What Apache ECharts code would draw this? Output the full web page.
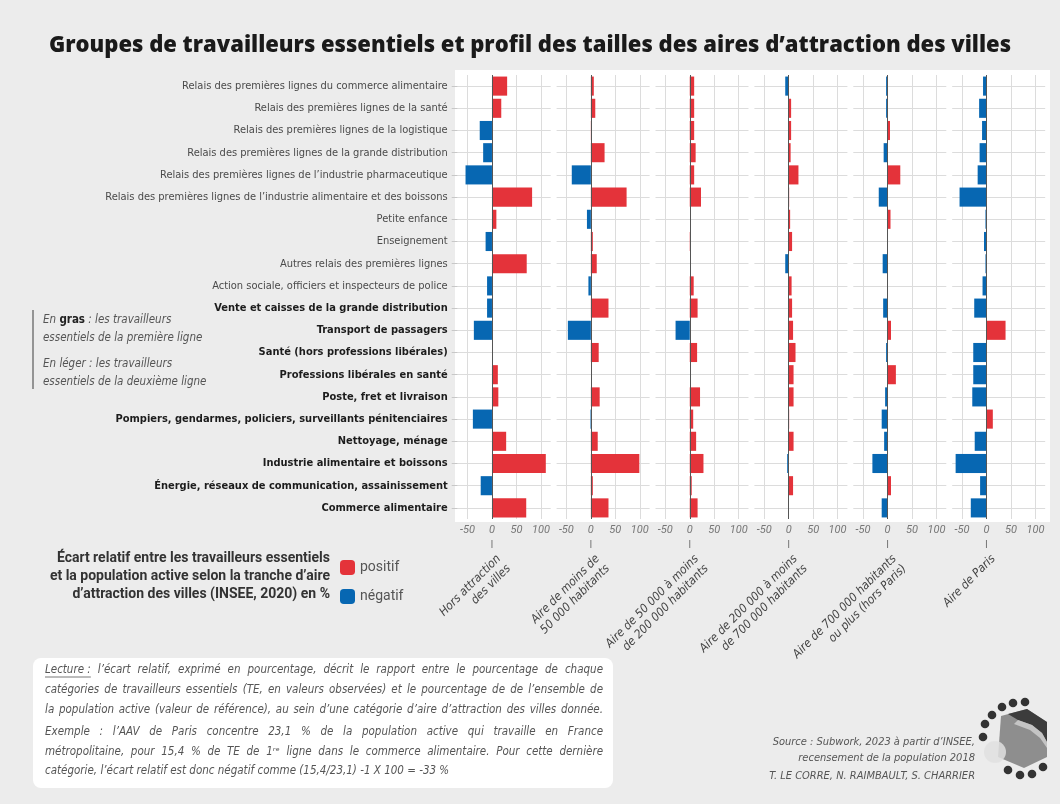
<!DOCTYPE html>
<html>
<head>
<meta charset="utf-8">
<script src="https://cdn.jsdelivr.net/npm/echarts@6/dist/echarts.min.js"></script>
<style>
  html, body { margin: 0; padding: 0; background: #ececec; }
  #chart { width: 1060px; height: 804px; }
</style>
</head>
<body>
<div id="chart"></div>
<script>
var categories = [
    'Relais des premières lignes du commerce alimentaire',
    'Relais des premières lignes de la santé',
    'Relais des premières lignes de la logistique',
    'Relais des premières lignes de la grande distribution',
    'Relais des premières lignes de l’industrie pharmaceutique',
    'Relais des premières lignes de l’industrie alimentaire et des boissons',
    'Petite enfance',
    'Enseignement',
    'Autres relais des premières lignes',
    'Action sociale, officiers et inspecteurs de police',
    'Vente et caisses de la grande distribution',
    'Transport de passagers',
    'Santé (hors professions libérales)',
    'Professions libérales en santé',
    'Poste, fret et livraison',
    'Pompiers, gendarmes, policiers, surveillants pénitenciaires',
    'Nettoyage, ménage',
    'Industrie alimentaire et boissons',
    'Énergie, réseaux de communication, assainissement',
    'Commerce alimentaire'
];
// les 10 dernières catégories sont les travailleurs de première ligne (en gras)
var firstBold = 10;

var zones = [
    'Hors attraction\ndes villes',
    'Aire de moins de\n50 000 habitants',
    'Aire de 50 000 à moins\nde 200 000 habitants',
    'Aire de 200 000 à moins\nde 700 000 habitants',
    'Aire de 700 000 habitants\nou plus (hors Paris)',
    'Aire de Paris'
];

var horsAttraction = [31, 19, -25, -18, -54, 82, 9, -13, 71, -10, -10, -37, 0, 12, 13, -39, 29, 110, -23, 70];
var moins50k = [6, 9, 1, 28, -39, 73, -8, 4, 12, -5, 36, -47, 16, 0, 18, -1, 14, 99, 4, 36];
var de50a200k = [9, 9, 9, 12, 9, 23, 0, 1, 0, 8, 16, -29, 15, 0, 21, 7, 13, 28, 4, 16];
var de200a700k = [-7, 5, 5, 4, 20, 1, 3, 7, -7, 6, 7, 9, 14, 10, 10, 1, 10, -3, 9, 0];
var plus700k = [-3, -3, 5, -8, 26, -18, 6, 0, -10, -1, -9, 7, -3, 17, -5, -12, -7, -31, 7, -12];
var paris = [-7, -15, -9, -14, -18, -55, -2, -5, -2, -8, -25, 39, -27, -27, -29, 13, -24, -63, -13, -32];
var panelValues = [horsAttraction, moins50k, de50a200k, de200a700k, plus700k, paris];

var tickValues = [-50, 0, 50, 100];
var legendNames = ['positif', 'négatif'];

var lectureLines = [
    'Lecture\u00a0: l’écart relatif, exprimé en pourcentage, décrit le rapport entre le pourcentage de chaque',
    'catégories de travailleurs essentiels (TE, en valeurs observées) et le pourcentage de de l’ensemble de',
    'la population active (valeur de référence), au sein d’une catégorie d’aire d’attraction des villes donnée.',
    'Exemple : l’AAV de Paris concentre 23,1 % de la population active qui travaille en France',
    'métropolitaine, pour 15,4 % de TE de 1ʳᵉ ligne dans le commerce alimentaire. Pour cette dernière',
    'catégorie, l’écart relatif est donc négatif comme (15,4/23,1) -1 X 100 = -33 %'
];

var RED = '#e4333a';
var BLUE = '#0767b2';

function hasFont(name) {
    var ctx = document.createElement('canvas').getContext('2d');
    var s = 'abcdefghijklmnopqrstuvwxyz ABCDEFGHIJ 0123456789';
    var diff = false;
    ['monospace', 'serif'].forEach(function (base) {
        ctx.font = '20px ' + base;
        var a = ctx.measureText(s).width;
        ctx.font = '20px "' + name + '", ' + base;
        if (ctx.measureText(s).width !== a) diff = true;
    });
    return diff;
}
var NARROW = ['Liberation Sans Narrow', 'DejaVu Sans Condensed', 'Roboto Condensed'].filter(hasFont)[0] || 'Roboto';
var NARROW_F = '"' + NARROW + '", Roboto, sans-serif';

var myChart = echarts.init(document.getElementById('chart'));

var grids = [], xAxes = [], yAxes = [], series = [];
panelValues.forEach(function (vals, i) {
    grids.push({ left: 457.7 + 98.9 * i, width: 93, top: 75, height: 444 });
    xAxes.push({
        type: 'value', gridIndex: i, min: -70, max: 120,
        axisLine: { show: false },
        axisTick: { show: false, customValues: tickValues },
        axisLabel: {
            customValues: tickValues, margin: 6, fontSize: 11, fontStyle: 'italic',
            color: '#777', fontFamily: 'Roboto'
        },
        splitLine: { show: true, lineStyle: { color: '#dcdcdc', width: 1 } }
    });
    yAxes.push({
        type: 'category', gridIndex: i, data: categories, inverse: true,
        axisLine: { show: false, onZero: false },
        axisTick: { show: i === 0, alignWithLabel: true, interval: 0, length: 6, lineStyle: { color: '#c8c8c8' } },
        axisLabel: {
            show: i === 0, interval: 0, margin: 10,
            formatter: function (v, idx) {
                return (idx >= firstBold ? '{b|' : '{l|') + v + '}';
            },
            rich: {
                l: { fontSize: 11, color: '#4a4a4a', fontFamily: NARROW_F },
                b: { fontSize: 11, color: '#1c1c1c', fontWeight: 'bold', fontFamily: NARROW_F }
            }
        },
        splitLine: { show: true, alignWithLabel: true, interval: 0, lineStyle: { color: '#dcdcdc', width: 1 } }
    });
    series.push({
        name: legendNames[0], type: 'bar', xAxisIndex: i, yAxisIndex: i,
        data: vals.map(function (v) { return v >= 0 ? v : '-'; }),
        itemStyle: { color: RED }, barCategoryGap: '14%', barGap: '-100%',
        markLine: {
            silent: true, symbol: 'none', label: { show: false },
            lineStyle: { color: '#555', type: 'solid', width: 1 },
            data: [{ xAxis: 0 }]
        }
    });
    series.push({
        name: legendNames[1], type: 'bar', xAxisIndex: i, yAxisIndex: i,
        data: vals.map(function (v) { return v < 0 ? v : '-'; }),
        itemStyle: { color: BLUE }, barCategoryGap: '14%', barGap: '-100%'
    });
});

var option = {
    backgroundColor: '#ececec',
    animation: false,
    title: {
        text: 'Groupes de travailleurs essentiels et profil des tailles des aires d’attraction des villes',
        left: 'center', top: 30,
        textStyle: { fontSize: 22, fontWeight: 800, color: '#1a1a1a', fontFamily: '"Open Sans", Inter' }
    },
    legend: {
        data: legendNames, orient: 'vertical', left: 335, top: 555,
        itemWidth: 15, itemHeight: 15, itemGap: 14, icon: 'roundRect',
        textStyle: { fontSize: 14, color: '#555', fontFamily: 'Roboto' }
    },
    grid: grids,
    xAxis: xAxes,
    yAxis: yAxes,
    series: series
};
myChart.setOption(option);

// éléments décoratifs et textes d'annotation
var g = [];
g.push({
    type: 'rect', z: -100, silent: true,
    shape: { x: 455, y: 70, width: 595, height: 452 },
    style: { fill: '#ffffff' }
});

// titres des tranches, ancrés sur le zéro de chaque panneau
zones.forEach(function (name, i) {
    var x0 = myChart.convertToPixel({ xAxisIndex: i }, 0);
    g.push({
        type: 'line', shape: { x1: x0, y1: 540, x2: x0, y2: 548 },
        style: { stroke: '#777', lineWidth: 1 }
    });
    g.push({
        type: 'text', x: x0 + 2, y: 552, rotation: Math.PI / 4,
        style: {
            text: name, align: 'right', verticalAlign: 'top', lineHeight: 14,
            font: 'italic 12px ' + NARROW_F, fill: '#444'
        }
    });
});

// annotation gras / léger
g.push({ type: 'line', shape: { x1: 33, y1: 310, x2: 33, y2: 389 }, style: { stroke: '#777', lineWidth: 1.5 } });
g.push({
    type: 'text', x: 43, y: 311,
    style: {
        text: '{i|En }{bb|gras}{i| : les travailleurs}\n{i|essentiels de la première ligne}',
        lineHeight: 18,
        rich: {
            i: { font: 'italic 11.5px ' + NARROW_F, fill: '#555' },
            bb: { font: 'bold 11.5px ' + NARROW_F, fill: '#222' }
        }
    }
});
g.push({
    type: 'text', x: 43, y: 355,
    style: {
        text: 'En léger : les travailleurs\nessentiels de la deuxième ligne',
        lineHeight: 18, font: 'italic 11.5px ' + NARROW_F, fill: '#555'
    }
});

// titre de légende
g.push({
    type: 'text', x: 330, y: 549,
    style: {
        text: 'Écart relatif entre les travailleurs essentiels\net la population active selon la tranche d’aire\nd’attraction des villes (INSEE, 2020) en %',
        align: 'right', verticalAlign: 'top', lineHeight: 18,
        font: 'bold 14px Roboto', fill: '#333'
    }
});

// encadré de lecture, texte justifié
g.push({
    type: 'rect', shape: { x: 33, y: 658, width: 580, height: 130, r: 8 },
    style: { fill: '#ffffff' }
});
(function () {
    var left = 45, width = 558;
    var ctx = document.createElement('canvas').getContext('2d');
    // taille de police ajustée pour que la ligne la plus longue tienne
    var size = 13, font;
    for (; size > 9; size -= 0.25) {
        font = 'italic ' + size + 'px ' + NARROW_F;
        ctx.font = font;
        var maxW = Math.max.apply(null, lectureLines.map(function (l) { return ctx.measureText(l).width; }));
        if (maxW <= width - 10) break;
    }
    var ys = [670, 690, 710, 732, 752, 771];
    var space = ctx.measureText(' ').width;
    lectureLines.forEach(function (line, li) {
        var words = line.split(' ');
        var widths = words.map(function (w) { return ctx.measureText(w).width; });
        var total = widths.reduce(function (a, b) { return a + b; }, 0);
        var justify = li !== lectureLines.length - 1;
        var gap = justify ? (width - total) / (words.length - 1) : space;
        var cx = left;
        words.forEach(function (w, j) {
            g.push({
                type: 'text', x: cx, y: ys[li],
                style: { text: w, font: font, fill: '#555', verticalAlign: 'middle' }
            });
            if (li === 0 && j === 0) {
                g.push({
                    type: 'line', shape: { x1: cx, y1: ys[li] + 7, x2: cx + widths[j], y2: ys[li] + 7 },
                    style: { stroke: '#555', lineWidth: 0.8 }
                });
            }
            cx += widths[j] + gap;
        });
    });
})();

// source
g.push({
    type: 'text', x: 975, y: 734,
    style: {
        text: 'Source : Subwork, 2023 à partir d’INSEE,\nrecensement de la population 2018',
        align: 'right', verticalAlign: 'top', lineHeight: 16,
        font: 'italic 11px ' + NARROW_F, fill: '#555'
    }
});
g.push({
    type: 'text', x: 975, y: 776,
    style: {
        text: 'T. LE CORRE, N. RAIMBAULT, S. CHARRIER',
        align: 'right', verticalAlign: 'middle',
        font: 'italic 11px ' + NARROW_F, fill: '#555'
    }
});

// logo
g.push({
    type: 'polygon',
    shape: { points: [[1001, 716], [1027, 709], [1047, 722], [1047, 757], [1024, 768], [998, 757]] },
    style: { fill: '#8e8e8e' }
});
g.push({
    type: 'polygon',
    shape: { points: [[1008, 714], [1027, 709], [1047, 722], [1047, 742], [1042, 733], [1032, 725], [1018, 720]] },
    style: { fill: '#3c3c3c' }
});
g.push({
    type: 'polygon',
    shape: { points: [[1018, 720], [1032, 725], [1042, 733], [1047, 742], [1047, 748], [1040, 738], [1030, 730], [1014, 724]] },
    style: { fill: '#c4c4c4' }
});
g.push({ type: 'circle', shape: { cx: 995, cy: 752, r: 11 }, style: { fill: 'rgba(225,225,225,0.85)' } });
[[1025, 702], [1013, 703], [1002, 707], [992, 715], [985, 724], [983, 737],
 [1008, 770], [1020, 775], [1032, 774], [1043, 767]].forEach(function (p) {
    g.push({ type: 'circle', shape: { cx: p[0], cy: p[1], r: 4.3 }, style: { fill: '#333' } });
});

myChart.setOption({ graphic: g });
</script>
</body>
</html>
